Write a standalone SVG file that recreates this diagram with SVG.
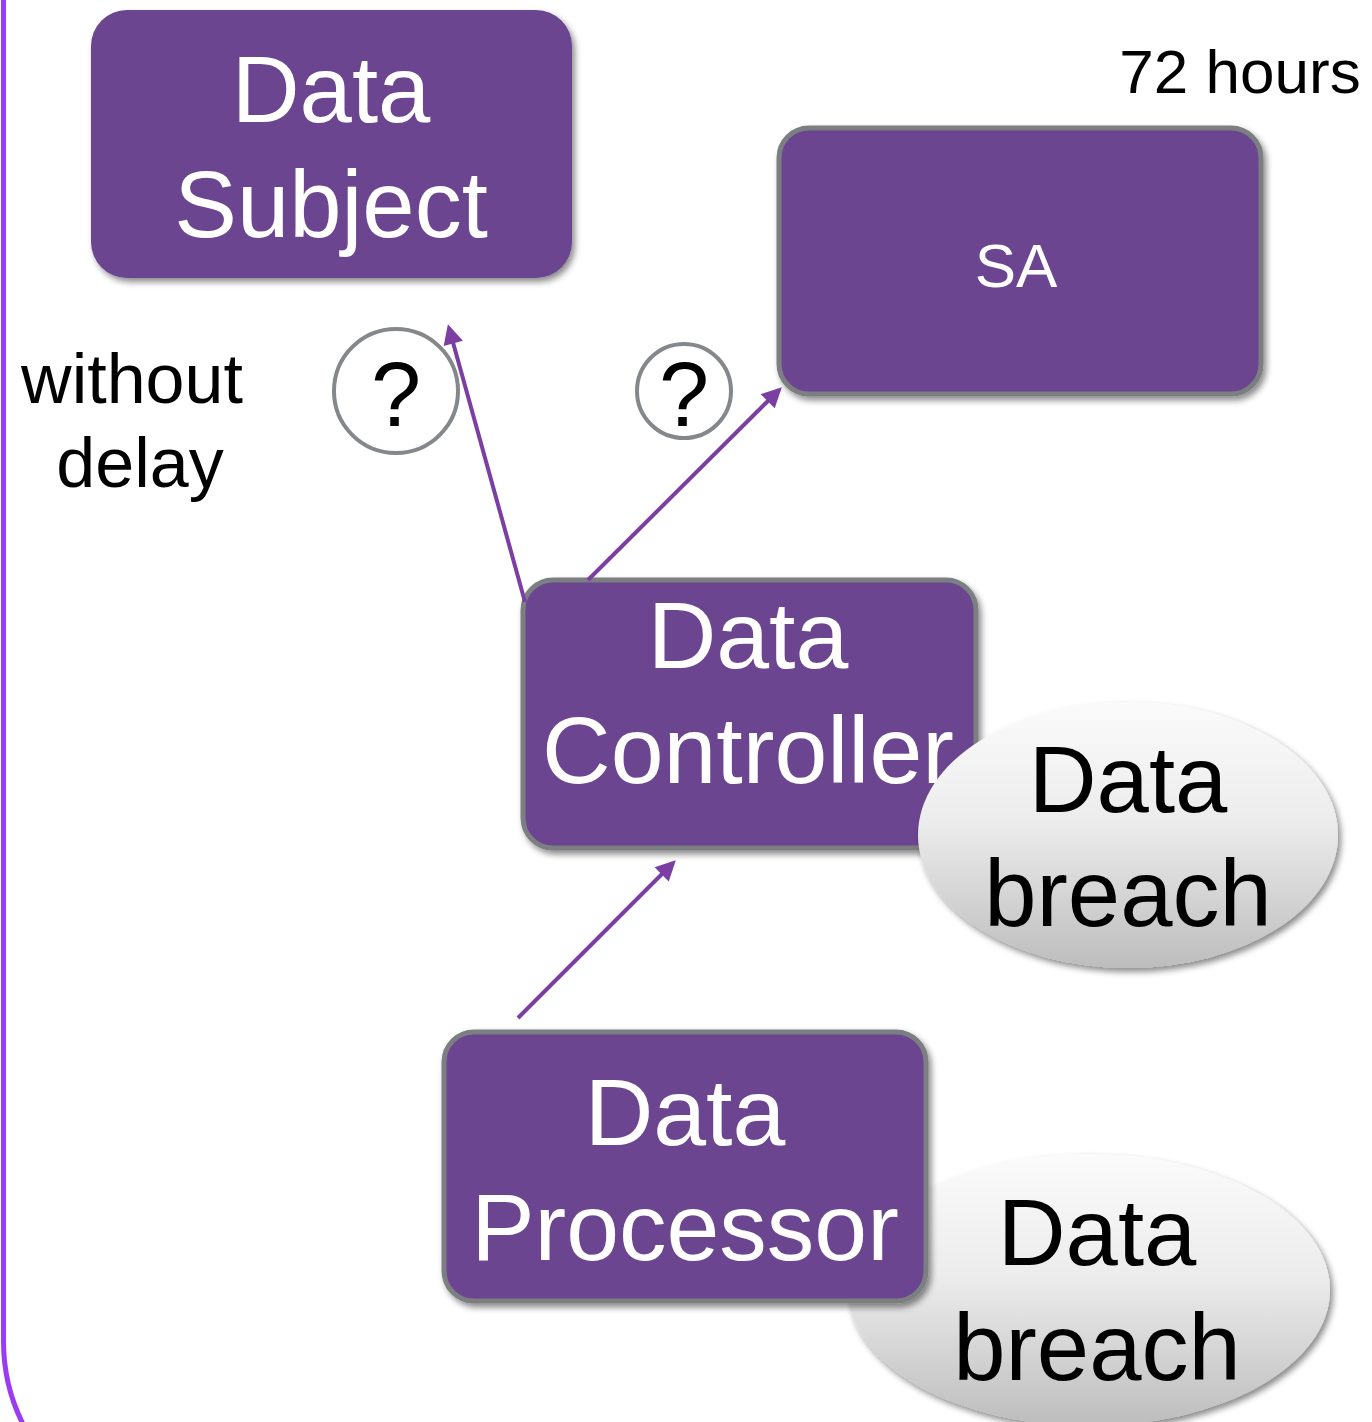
<svg xmlns="http://www.w3.org/2000/svg" width="1372" height="1422" viewBox="0 0 1372 1422">
<style>
.box{fill:#6c4490;}
.boxs{fill:#6c4490;stroke:#7c7f82;stroke-width:5;}
.wt{fill:#ffffff;font-family:"Liberation Sans",Arial,sans-serif;text-anchor:middle;}
.bt{fill:#000000;font-family:"Liberation Sans",Arial,sans-serif;text-anchor:middle;}
.q{fill:#ffffff;stroke:#85888b;stroke-width:4;}
.conn{stroke:#7b3fa3;stroke-width:4;fill:none;marker-end:url(#ah);}
.ell{fill:url(#eg);}
</style>
<defs>
<marker id="ah" viewBox="0 0 10 10" refX="8" refY="5" markerWidth="5.5" markerHeight="5" orient="auto" markerUnits="strokeWidth">
<path d="M0,0 L10,5 L0,10 z" fill="#7b3fa3"/>
</marker>
<linearGradient id="eg" x1="0" y1="0" x2="0" y2="1">
<stop offset="0" stop-color="#fbfbfb"/>
<stop offset="0.45" stop-color="#ececec"/>
<stop offset="1" stop-color="#bdbdbd"/>
</linearGradient>
<filter id="sh" x="-10%" y="-10%" width="125%" height="125%">
<feDropShadow dx="3" dy="4" stdDeviation="3" flood-color="#000" flood-opacity="0.45"/>
</filter>
</defs>
<path d="M3.5,-5 V1340 A186 186 0 0 0 32 1440" fill="none" stroke="#9b3cf5" stroke-width="5"/>
<text class="bt" x="1240" y="93" font-size="62">72 hours</text>
<text class="bt" x="132" y="403" font-size="70">without</text>
<text class="bt" x="140" y="487" font-size="70">delay</text>
<g id="data-subject">
<rect class="box" x="91" y="10" width="481" height="268" rx="36" filter="url(#sh)"/>
<text class="wt" x="331" y="122" font-size="94">Data</text>
<text class="wt" x="331" y="237" font-size="94">Subject</text>
</g>
<g id="sa">
<rect class="boxs" x="779" y="128" width="482" height="266" rx="30" filter="url(#sh)"/>
<text class="wt" x="1016" y="287" font-size="62">SA</text>
</g>
<g id="q1">
<circle class="q" cx="396" cy="391" r="62"/>
<text class="bt" x="396" y="426" font-size="90">?</text>
</g>
<g id="q2">
<circle class="q" cx="684" cy="391" r="47"/>
<text class="bt" x="684" y="426" font-size="90">?</text>
</g>
<g id="data-controller">
<rect class="boxs" x="523" y="580" width="453" height="268" rx="30" filter="url(#sh)"/>
<text class="wt" x="748" y="668" font-size="95">Data</text>
<text class="wt" x="748" y="783" font-size="95">Controller</text>
</g>
<g id="breach1">
<ellipse class="ell" cx="1128" cy="835" rx="210" ry="133" filter="url(#sh)"/>
<text class="bt" x="1128" y="812" font-size="94">Data</text>
<text class="bt" x="1128" y="926" font-size="94">breach</text>
</g>
<g id="breach2">
<ellipse class="ell" cx="1089" cy="1290" rx="241" ry="136" filter="url(#sh)"/>
<text class="bt" x="1097" y="1265" font-size="94">Data</text>
<text class="bt" x="1097" y="1380" font-size="94">breach</text>
</g>
<g id="data-processor">
<rect class="boxs" x="444" y="1032" width="482" height="269" rx="30" filter="url(#sh)"/>
<text class="wt" x="685" y="1145" font-size="95">Data</text>
<text class="wt" x="685" y="1260" font-size="95">Processor</text>
</g>
<g id="connectors">
<line class="conn" x1="525" y1="602" x2="449" y2="328"/>
<line class="conn" x1="588" y1="580" x2="779" y2="390"/>
<line class="conn" x1="518" y1="1018" x2="673" y2="863"/>
</g>
</svg>
